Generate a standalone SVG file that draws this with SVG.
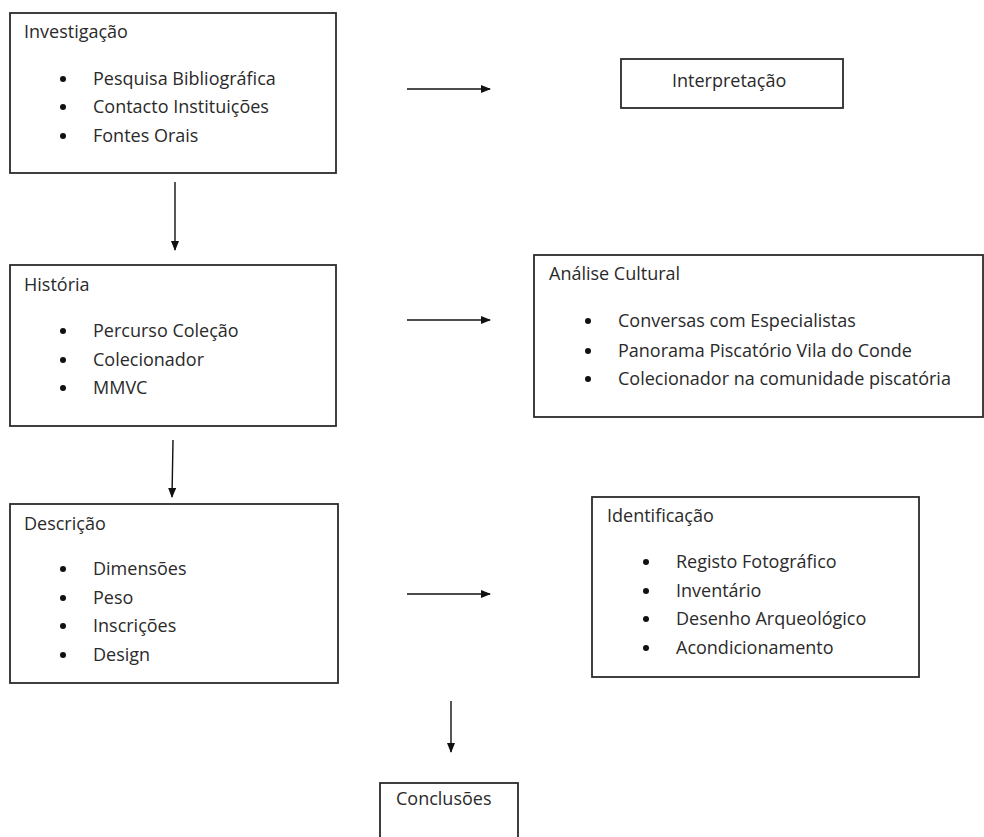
<svg xmlns="http://www.w3.org/2000/svg" width="984" height="837" viewBox="0 0 984 837">
<defs>
<marker id="ah" markerWidth="10" markerHeight="8" refX="9" refY="4" orient="auto" markerUnits="userSpaceOnUse">
<path d="M0,0 L10,4 L0,8 Z" fill="#111"/>
</marker>
<style>
.box{fill:#fff;stroke:#2b2b2b;stroke-width:1.8}
.t{font-family:"Open Sans","Noto Sans","DejaVu Sans",sans-serif;font-size:18px;fill:#2a2a2a}
.b{fill:#111}
.c{stroke:#111;stroke-width:1.4;fill:none;marker-end:url(#ah)}
</style>
</defs>
<rect width="984" height="837" fill="#fff"/>
<g id="connectors">
<line class="c" x1="407" y1="89" x2="490" y2="89"/>
<line class="c" x1="407" y1="320" x2="490" y2="320"/>
<line class="c" x1="407" y1="594" x2="490" y2="594"/>
<line class="c" x1="175" y1="182" x2="175" y2="250"/>
<line class="c" x1="173" y1="440" x2="172" y2="497"/>
<line class="c" x1="451" y1="701" x2="451" y2="752"/>
</g>
<g id="investigacao">
<rect class="box" x="10" y="13" width="326" height="160"/>
<text class="t" x="24" y="38">Investigação</text>
<circle class="b" cx="63" cy="79" r="3"/><text class="t" x="93" y="85">Pesquisa Bibliográfica</text>
<circle class="b" cx="63" cy="107" r="3"/><text class="t" x="93" y="113">Contacto Instituições</text>
<circle class="b" cx="63" cy="136" r="3"/><text class="t" x="93" y="142">Fontes Orais</text>
</g>
<g id="interpretacao">
<rect class="box" x="621" y="59" width="222" height="49"/>
<text class="t" x="672" y="87">Interpretação</text>
</g>
<g id="historia">
<rect class="box" x="10" y="265" width="326" height="161"/>
<text class="t" x="24" y="291">História</text>
<circle class="b" cx="63" cy="331" r="3"/><text class="t" x="93" y="337">Percurso Coleção</text>
<circle class="b" cx="63" cy="360" r="3"/><text class="t" x="93" y="366">Colecionador</text>
<circle class="b" cx="63" cy="388" r="3"/><text class="t" x="93" y="394">MMVC</text>
</g>
<g id="analise-cultural">
<rect class="box" x="534" y="255" width="449" height="162"/>
<text class="t" x="549" y="280">Análise Cultural</text>
<circle class="b" cx="588" cy="321" r="3"/><text class="t" x="618" y="327">Conversas com Especialistas</text>
<circle class="b" cx="588" cy="351" r="3"/><text class="t" x="618" y="357">Panorama Piscatório Vila do Conde</text>
<circle class="b" cx="588" cy="379" r="3"/><text class="t" x="618" y="385">Colecionador na comunidade piscatória</text>
</g>
<g id="descricao">
<rect class="box" x="10" y="504" width="328" height="179"/>
<text class="t" x="24" y="530">Descrição</text>
<circle class="b" cx="63" cy="569" r="3"/><text class="t" x="93" y="575">Dimensões</text>
<circle class="b" cx="63" cy="598" r="3"/><text class="t" x="93" y="604">Peso</text>
<circle class="b" cx="63" cy="626" r="3"/><text class="t" x="93" y="632">Inscrições</text>
<circle class="b" cx="63" cy="655" r="3"/><text class="t" x="93" y="661">Design</text>
</g>
<g id="identificacao">
<rect class="box" x="592" y="497" width="327" height="180"/>
<text class="t" x="607" y="522">Identificação</text>
<circle class="b" cx="646" cy="562" r="3"/><text class="t" x="676" y="568">Registo Fotográfico</text>
<circle class="b" cx="646" cy="591" r="3"/><text class="t" x="676" y="597">Inventário</text>
<circle class="b" cx="646" cy="619" r="3"/><text class="t" x="676" y="625">Desenho Arqueológico</text>
<circle class="b" cx="646" cy="648" r="3"/><text class="t" x="676" y="654">Acondicionamento</text>
</g>
<g id="conclusoes">
<rect class="box" x="380" y="783" width="138" height="70"/>
<text class="t" x="396" y="805">Conclusões</text>
</g>
</svg>
